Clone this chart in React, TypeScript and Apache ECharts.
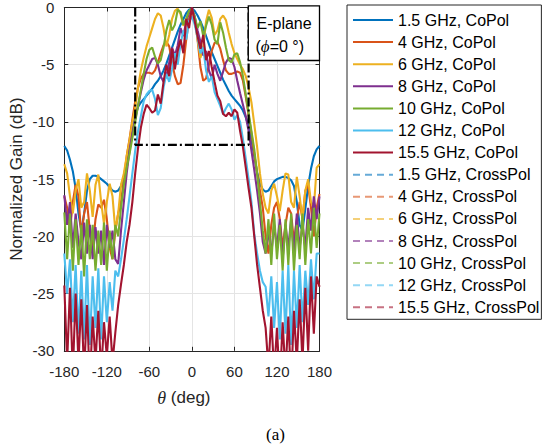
import React, { useEffect, useRef } from "react";
import * as echarts from "echarts";

// theta grid (deg)
const theta = [
  -180, -176, -172, -168, -164, -160, -156, -152, -148, -144, -140, -136, -132, -128, -124, -120, -116, -112, -108, -104, -100, -96, -92,
  -88, -84, -80, -76, -72, -68, -64, -60, -56, -52, -48, -44, -40, -36, -32, -28, -24, -20, -16, -12, -8, -4, 0,
  4, 8, 12, 16, 20, 24, 28, 32, 36, 40, 44, 48, 52, 56, 60, 64, 68, 72, 76, 80, 84, 88,
  92, 96, 100, 104, 108, 112, 116, 120, 124, 128, 132, 136, 140, 144, 148, 152, 156, 160, 164, 168, 172, 176, 180,
];

const gain1p5 = [
  -12.1, -12.5, -13.3, -14.3, -15.8, -18.0, -19.5, -18.0, -16.0, -15.0, -14.7, -14.7, -14.8, -15.0, -15.2, -15.4, -15.7, -16.0, -16.1, -16.0, -15.6, -14.8, -13.4,
  -11.8, -10.3, -9.3, -8.7, -8.3, -8.0, -7.7, -7.4, -7.1, -6.7, -6.4, -6.0, -5.5, -4.9, -4.2, -3.5, -2.8, -2.1, -1.5, -1.0, -0.5, -0.2, -0.1,
  -0.3, -0.7, -1.2, -1.8, -2.5, -3.2, -3.9, -4.5, -5.1, -5.7, -6.3, -6.8, -7.3, -7.7, -8.0, -8.3, -8.6, -9.0, -9.6, -10.4, -11.6, -13.0,
  -14.4, -15.4, -15.9, -16.1, -16.0, -15.6, -15.2, -15.0, -14.9, -14.8, -14.8, -14.9, -15.1, -15.6, -17.0, -19.0, -19.5, -17.6, -15.6, -14.1, -13.0, -12.4, -12.1,
];

const gain4 = [
  -16.5, -17.5, -19.5, -17.0, -15.5, -16.5, -20.0, -18.0, -17.0, -19.5, -21.0, -18.5, -17.2, -17.5, -16.8, -18.5, -21.0, -22.0, -19.5, -18.0, -17.0, -15.0, -13.0,
  -11.5, -9.8, -8.2, -7.0, -6.2, -5.8, -5.7, -5.7, -5.8, -5.5, -4.8, -4.0, -3.3, -3.0, -3.4, -4.8, -6.0, -6.7, -6.6, -5.0, -2.8, -1.0, -0.2,
  -1.0, -2.8, -5.2, -6.4, -6.2, -5.0, -3.8, -3.1, -3.0, -3.6, -4.6, -5.5, -5.8, -5.8, -5.7, -5.6, -5.7, -6.4, -7.8, -9.4, -11.0, -12.8,
  -14.5, -16.0, -17.5, -20.0, -21.5, -19.0, -17.5, -17.0, -18.5, -21.0, -19.0, -17.5, -18.0, -20.5, -18.5, -17.0, -18.5, -16.0, -15.5, -17.5, -20.0, -17.5, -16.3,
];

const gain6 = [
  -13.7, -14.5, -16.5, -18.0, -16.0, -15.0, -17.5, -17.0, -14.5, -16.0, -18.3, -15.5, -14.6, -17.0, -18.9, -17.0, -15.4, -16.5, -19.5, -18.0, -15.5, -14.5, -13.0,
  -11.6, -10.0, -8.8, -7.0, -5.5, -4.4, -3.4, -2.6, -1.8, -1.0, -0.5, -0.7, -1.8, -3.4, -2.4, -1.0, -0.3, -0.1, -0.6, -1.6, -1.0, -0.4, -0.3,
  -0.9, -2.8, -4.4, -3.5, -1.2, -0.2, -0.9, -2.4, -2.0, -1.0, -0.7, -1.1, -2.2, -3.2, -4.0, -4.5, -5.0, -5.4, -6.0, -7.0, -8.3, -10.2,
  -12.2, -14.5, -16.3, -17.5, -18.0, -16.0, -15.4, -16.5, -17.8, -16.0, -14.5, -14.6, -17.0, -17.5, -14.8, -16.5, -18.5, -16.0, -15.0, -17.0, -17.5, -14.0, -13.7,
];

const gain8 = [
  -16.4, -19.0, -17.0, -21.0, -18.0, -20.5, -22.0, -18.8, -21.5, -19.0, -22.0, -19.2, -21.5, -19.5, -22.5, -19.0, -21.0, -19.5, -22.0, -22.4, -19.5, -17.0, -14.5,
  -12.5, -11.0, -9.8, -8.6, -7.4, -6.3, -5.5, -5.0, -4.5, -4.4, -5.0, -6.0, -6.5, -6.0, -4.8, -3.5, -4.2, -3.3, -1.8, -2.5, -1.2, -0.5, 0.0,
  -0.8, -2.0, -3.0, -4.2, -3.8, -5.5, -6.2, -5.0, -5.8, -6.4, -5.6, -4.8, -4.4, -4.5, -5.2, -6.4, -7.5, -8.5, -9.5, -10.8, -12.5, -14.2,
  -16.0, -18.0, -20.5, -21.5, -19.5, -21.5, -19.0, -21.0, -18.5, -22.0, -19.0, -21.0, -18.5, -21.5, -18.0, -21.0, -19.0, -21.0, -17.5, -19.5, -16.5, -18.5, -16.5,
];

const gain10 = [
  -17.9, -22.0, -18.0, -23.0, -18.5, -22.5, -19.0, -23.5, -18.5, -22.0, -19.0, -23.0, -19.5, -22.5, -18.8, -23.0, -19.5, -22.0, -19.0, -20.0, -17.5, -15.5, -14.0,
  -12.8, -11.4, -10.0, -8.6, -7.2, -5.8, -4.5, -3.7, -3.5, -4.3, -4.9, -4.6, -3.5, -2.0, -1.1, -2.0, -1.5, -0.2, -0.4, -1.5, -1.0, -0.3, -0.1,
  -0.8, -1.8, -1.2, -2.5, -1.6, -0.8, -1.5, -2.8, -3.2, -1.3, -2.2, -3.5, -4.6, -4.8, -4.1, -4.0, -4.8, -6.0, -7.6, -9.2, -10.8, -12.4,
  -14.5, -17.0, -19.5, -21.5, -18.5, -22.5, -18.0, -22.0, -19.0, -23.0, -18.5, -22.5, -18.0, -23.0, -19.0, -22.0, -18.0, -22.5, -18.5, -21.5, -17.5, -21.0, -18.0,
];

const gain12 = [
  -21.5, -25.0, -22.0, -27.5, -22.5, -28.5, -23.0, -29.0, -22.5, -29.5, -23.5, -28.0, -22.8, -29.0, -23.5, -27.5, -24.0, -26.5, -23.0, -23.5, -22.0, -20.3, -18.5,
  -16.5, -14.5, -12.5, -10.8, -9.5, -8.2, -7.6, -7.3, -7.2, -8.0, -9.4, -8.8, -7.0, -5.8, -6.5, -5.4, -4.0, -5.0, -3.2, -2.0, -2.8, -1.2, -0.8,
  -1.5, -2.6, -4.0, -3.5, -5.5, -6.5, -6.0, -7.4, -8.0, -8.6, -9.3, -8.8, -8.4, -8.9, -9.8, -9.4, -10.0, -11.5, -13.2, -15.0, -17.0, -19.8,
  -21.5, -23.0, -24.0, -24.4, -27.0, -23.5, -28.0, -24.0, -29.0, -23.0, -28.5, -22.5, -29.5, -23.0, -28.0, -22.5, -27.5, -23.0, -26.0, -22.0, -25.5, -21.5, -21.5,
];

const gain15p5 = [
  -24.3, -31.0, -24.5, -32.0, -25.0, -31.0, -25.5, -32.0, -26.0, -33.0, -27.0, -31.0, -26.5, -32.0, -27.5, -30.5, -27.0, -31.0, -28.4, -26.0, -24.2, -22.5, -20.5,
  -19.0, -17.0, -14.5, -12.3, -10.5, -9.3, -8.5, -8.8, -9.2, -9.0, -7.6, -8.4, -6.5, -5.0, -6.0, -3.6, -5.4, -3.8, -2.8, -4.0, -1.0, -1.8, 0.0,
  -1.2, -2.5, -3.6, -2.4, -4.6, -3.8, -5.2, -6.5, -7.7, -8.2, -9.3, -9.5, -9.2, -9.5, -8.9, -9.2, -10.8, -12.2, -14.0, -15.8, -17.5, -20.0,
  -22.5, -24.5, -26.5, -28.0, -31.5, -27.0, -32.0, -28.0, -33.0, -27.5, -32.0, -27.0, -33.0, -26.5, -31.0, -25.5, -31.0, -24.5, -30.0, -23.5, -28.5, -23.5, -24.4,
];

const coPolNames = [
  "1.5 GHz, CoPol", "4 GHz, CoPol", "6 GHz, CoPol", "8 GHz, CoPol", "10 GHz, CoPol", "12 GHz, CoPol", "15.5 GHz, CoPol",
];
const crossPolNames = [
  "1.5 GHz, CrossPol", "4 GHz, CrossPol", "6 GHz, CrossPol", "8 GHz, CrossPol", "10 GHz, CrossPol", "12 GHz, CrossPol", "15.5 GHz, CrossPol",
];
const coPolGain = [gain1p5, gain4, gain6, gain8, gain10, gain12, gain15p5];
// Cross-pol levels all lie below the -30 dB floor of the plot: nothing visible
const crossPolGain: number[][] = [[], [], [], [], [], [], []];

const coColors = ["#0072BD", "#D95319", "#EDB120", "#7E2F8E", "#77AC30", "#4DBEEE", "#A2142F"];
const crossColors = ["#66AAD7", "#E89875", "#F4D079", "#B282BB", "#ADCD83", "#94D8F5", "#C77282"];

// dash-dot mask box
const boxTheta = [-80, -80, 80, 80];
const boxGain = [0, -12, -12, 0];

const xTicks = { min: -180, max: 180, interval: 60 };
const yTicks = { min: -30, max: 0, interval: 5 };

const FONT = '"Liberation Sans", Arial, Helvetica, sans-serif';
const SERIF = '"Liberation Serif", "DejaVu Serif", serif';
const AXIS_COLOR = "#262626";

export default function App() {
  const ref = useRef<HTMLDivElement>(null);
  useEffect(() => {
    const chart = echarts.init(ref.current!, null, { renderer: "svg" });
    const coSeries = coPolNames.map((name, k) => ({
      name,
      type: "line",
      data: theta.map((t, i) => [t, coPolGain[k][i]]),
      symbol: "none",
      showSymbol: false,
      lineStyle: { color: coColors[k], width: 2.1 },
      itemStyle: { color: coColors[k] },
      z: 2,
    }));
    const crossSeries = crossPolNames.map((name, k) => ({
      name,
      type: "line",
      data: crossPolGain[k].map((g, i) => [theta[i], g]),
      symbol: "none",
      showSymbol: false,
      lineStyle: { color: crossColors[k], width: 1.5, type: [7, 5] },
      itemStyle: { color: crossColors[k] },
      z: 2,
    }));
    const boxSeries = {
      name: "mask",
      type: "line",
      data: boxTheta.map((t, i) => [t, boxGain[i]]),
      symbol: "none",
      showSymbol: false,
      silent: true,
      lineStyle: { color: "#000", width: 2.2, type: [9, 3, 2, 3] },
      itemStyle: { color: "#000" },
      z: 5,
    };
    const axisCommon = {
      axisLine: { show: true, onZero: false, lineStyle: { color: AXIS_COLOR, width: 1 } },
      axisTick: { show: true, inside: true, length: 4, lineStyle: { color: AXIS_COLOR, width: 1 } },
    };
    chart.setOption({
      animation: false,
      backgroundColor: "#fff",
      grid: { left: 64.3, right: 223.5, top: 5.8, bottom: 97.2 },
      legend: {
        data: [...coPolNames, ...crossPolNames],
        orient: "vertical",
        left: 347,
        top: 5,
        itemWidth: 40,
        itemHeight: 14,
        itemGap: 6.1,
        padding: [7, 2, 4, 5],
        borderColor: AXIS_COLOR,
        borderWidth: 1,
        backgroundColor: "#fff",
        itemStyle: { opacity: 0 },
        textStyle: { fontSize: 16, fontFamily: FONT, color: "#000" },
        selectedMode: false,
      },
      xAxis: [
        {
          type: "value",
          ...xTicks,
          position: "bottom",
          ...axisCommon,
          splitLine: { show: true, lineStyle: { color: "#e4e4e4", width: 1 } },
          axisLabel: { fontSize: 15, color: AXIS_COLOR, fontFamily: FONT, margin: 13 },
          name: "{i|θ} (deg)",
          nameLocation: "middle",
          nameGap: 38,
          nameTextStyle: {
            fontSize: 17,
            fontFamily: FONT,
            color: AXIS_COLOR,
            padding: [0, 16, 0, 0],
            rich: { i: { fontStyle: "italic", fontFamily: SERIF, fontSize: 18, color: AXIS_COLOR } },
          },
        },
        {
          type: "value",
          ...xTicks,
          position: "top",
          ...axisCommon,
          splitLine: { show: false },
          axisLabel: { show: false },
        },
      ],
      yAxis: [
        {
          type: "value",
          ...yTicks,
          position: "left",
          ...axisCommon,
          splitLine: { show: true, lineStyle: { color: "#e4e4e4", width: 1 } },
          axisLabel: { fontSize: 15, color: AXIS_COLOR, fontFamily: FONT, margin: 10 },
          name: "Normalized Gain (dB)",
          nameLocation: "middle",
          nameGap: 39,
          nameTextStyle: { fontSize: 17, fontFamily: FONT, color: AXIS_COLOR },
        },
        {
          type: "value",
          ...yTicks,
          position: "right",
          ...axisCommon,
          splitLine: { show: false },
          axisLabel: { show: false },
        },
      ],
      series: [...coSeries, ...crossSeries, boxSeries],
      graphic: [
        {
          type: "rect",
          shape: { x: 248.3, y: 5.8, width: 71.2, height: 54.7 },
          style: { fill: "#fff", stroke: "#000", lineWidth: 1.3 },
          z: 100,
        },
        {
          type: "text",
          x: 256.5,
          y: 23,
          style: { text: "E-plane", fontSize: 16, fontFamily: FONT, fill: "#000", verticalAlign: "middle" },
          z: 101,
        },
        {
          type: "text",
          x: 255.5,
          y: 46.5,
          style: {
            text: "({p|ϕ}=0 °)",
            fontSize: 16,
            fontFamily: FONT,
            fill: "#000",
            verticalAlign: "middle",
            rich: { p: { fontStyle: "italic", fontFamily: SERIF, fontSize: 17, fill: "#000" } },
          },
          z: 101,
        },
        {
          type: "text",
          x: 275.5,
          y: 434.5,
          style: { text: "(a)", fontSize: 17, fontFamily: SERIF, fill: "#000", align: "center", verticalAlign: "middle" },
          z: 101,
        },
      ],
    });
    return () => chart.dispose();
  }, []);
  return <div ref={ref} style={{ position: "fixed", left: 0, top: 0, width: 543, height: 448 }} />;
}
